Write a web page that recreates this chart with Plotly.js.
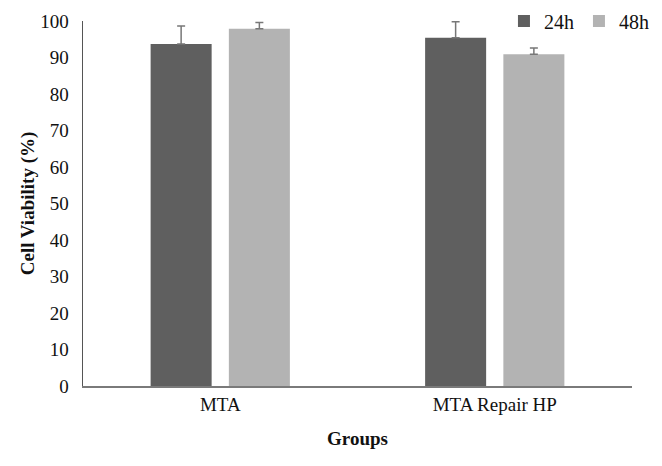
<!DOCTYPE html>
<html>
<head>
<meta charset="utf-8">
<script src="https://cdn.plot.ly/plotly-3.0.1.min.js"></script>
<style>
  body { margin: 0; background: #fff; }
  #chart { width: 662px; height: 466px; }
</style>
</head>
<body>
<div id="chart"></div>
<script>
  // --- Data ---
  const groups = ['MTA', 'MTA Repair HP'];
  const series = ['24h', '48h'];
  const viability24 = [93.7, 95.4];
  const viability48 = [97.9, 90.9];
  const err24 = [4.9, 4.4];
  const err48 = [1.7, 1.7];

  const SERIF = '"Liberation Serif", serif';
  const COLORS = ['#5f5f5f', '#b3b3b3'];

  const traces = [
    { values: viability24, err: err24 },
    { values: viability48, err: err48 },
  ].map((s, i) => ({
    x: groups,
    y: s.values,
    name: series[i],
    type: 'bar',
    marker: { color: COLORS[i] },
    error_y: {
      type: 'data',
      symmetric: false,
      array: s.err,
      arrayminus: s.err.map(() => 0),
      color: '#777',
      thickness: 1.5,
      width: 4,
    },
  }));

  const layout = {
    width: 662,
    height: 466,
    paper_bgcolor: '#fff',
    plot_bgcolor: '#fff',
    font: { family: SERIF, size: 19, color: '#111' },
    margin: { t: 21, r: 30, b: 80, l: 83, autoexpand: false },
    barmode: 'group',
    bargap: 0.43,
    bargroupgap: 0.22,
    showlegend: true,
    legend: {
      orientation: 'h',
      x: 1.04,
      xanchor: 'right',
      y: 1.0,
      yanchor: 'middle',
      font: { family: SERIF, size: 20 },
      itemwidth: 20,
      tracegroupgap: 0,
    },
    xaxis: {
      showline: true,
      linecolor: '#7a7a7a',
      linewidth: 2,
      ticks: '',
      showgrid: false,
      zeroline: false,
      tickfont: { family: SERIF, size: 19 },
      title: { text: '<b>Groups</b>', font: { family: SERIF, size: 19 }, standoff: 18 },
    },
    yaxis: {
      range: [0, 100],
      dtick: 10,
      showline: true,
      linecolor: '#555',
      linewidth: 1.5,
      ticks: '',
      ticklabelstandoff: 9,
      showgrid: false,
      zeroline: false,
      tickfont: { family: SERIF, size: 19 },
      title: { text: '<b>Cell Viability (%)</b>', font: { family: SERIF, size: 19 }, standoff: 0 },
    },
  };

  Plotly.newPlot('chart', traces, layout, { displayModeBar: false, staticPlot: true });
</script>
</body>
</html>
